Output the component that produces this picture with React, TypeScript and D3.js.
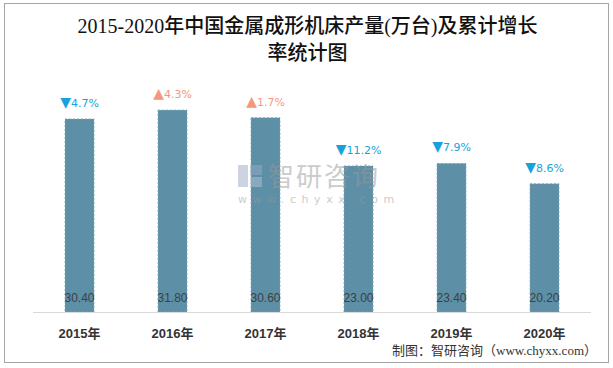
import React from 'react';
import { scaleBand, scaleLinear, select } from 'd3';

const years: string[] = ['2015年', '2016年', '2017年', '2018年', '2019年', '2020年'];
const output: number[] = [30.4, 31.8, 30.6, 23.0, 23.4, 20.2];
const growth: number[] = [-4.7, 4.3, 1.7, -11.2, -7.9, -8.6];

const titleLines = ['2015-2020年中国金属成形机床产量(万台)及累计增长', '率统计图'];
const source = '制图：智研咨询（www.chyxx.com）';

const dims = {
    width: 613,
    height: 368,
    left: 33,
    right: 591,
    baseline: 312,
    top: 89.75,
}

const colors = {
    bar: '#5d8fa6',
    barStroke: '#7ea6b8',
    down: '#17a2dc',
    up: '#f4987c',
    axis: '#d9d9d9',
    text: '#404040',
}

const App: React.FC = () => {
    const ref = React.useRef<SVGSVGElement>(null);

    const init = () => {
        const svg = select(ref.current);
        svg.selectAll('*').remove();

        const xScale = scaleBand()
            .domain(years)
            .range([dims.left, dims.right])
            .paddingInner(0.688)
            .paddingOuter(0.344);

        const yScale = scaleLinear()
            .domain([0, 35])
            .range([dims.baseline, dims.top]);

        // outer frame
        svg.append('rect')
            .attr('x', 4.5).attr('y', 3.5)
            .attr('width', 604).attr('height', 359)
            .attr('fill', '#fff')
            .attr('stroke', '#a6a6a6');

        // title
        svg.append('g')
            .selectAll('text')
            .data(titleLines)
            .join('text')
            .attr('x', 307.5)
            .attr('y', (d, i) => 33 + i * 27)
            .attr('text-anchor', 'middle')
            .attr('font-family', '"Liberation Serif", "Noto Sans CJK SC", serif')
            .attr('font-size', 20)
            .attr('font-weight', 500)
            .attr('fill', '#111')
            .text(d => d);

        // bars
        svg.append('g')
            .selectAll('rect')
            .data(output)
            .join('rect')
            .attr('x', (d, i) => xScale(years[i]))
            .attr('y', d => yScale(d))
            .attr('width', xScale.bandwidth())
            .attr('height', d => yScale(0) - yScale(d))
            .attr('fill', colors.bar)
            .attr('stroke', colors.barStroke)
            .attr('stroke-width', 0.8)
            .attr('stroke-dasharray', '2,2');

        // watermark
        const wm = svg.append('g').attr('opacity', 0.5);
        wm.append('rect').attr('x', 238).attr('y', 165).attr('width', 10).attr('height', 22).attr('fill', '#9aa9c4');
        wm.append('rect').attr('x', 250).attr('y', 165).attr('width', 12).attr('height', 10).attr('fill', '#9aa9c4');
        wm.append('rect').attr('x', 250).attr('y', 177).attr('width', 12).attr('height', 10).attr('fill', '#b8c4d8');
        wm.append('text')
            .attr('x', 268).attr('y', 186)
            .attr('font-family', '"Noto Sans CJK SC", sans-serif')
            .attr('font-size', 26)
            .attr('fill', '#999')
            .attr('letter-spacing', 2)
            .text('智研咨询');
        wm.append('text')
            .attr('x', 238).attr('y', 203)
            .attr('font-family', '"DejaVu Sans", sans-serif')
            .attr('font-size', 11)
            .attr('fill', '#999')
            .attr('letter-spacing', 5.6)
            .text('www.chyxx.com');

        // value labels inside bars
        svg.append('g')
            .selectAll('text')
            .data(output)
            .join('text')
            .attr('x', (d, i) => xScale(years[i]) + xScale.bandwidth() / 2)
            .attr('y', dims.baseline - 10)
            .attr('text-anchor', 'middle')
            .attr('font-family', '"Liberation Sans", Arial, sans-serif')
            .attr('font-size', 12)
            .attr('fill', colors.text)
            .text(d => d.toFixed(2));

        // growth labels
        const gl = svg.append('g')
            .selectAll('text')
            .data(growth)
            .join('text')
            .attr('x', (d, i) => xScale(years[i]) + xScale.bandwidth() / 2)
            .attr('y', (d, i) => yScale(output[i]) - 12)
            .attr('text-anchor', 'middle')
            .attr('font-family', '"DejaVu Sans", Verdana, sans-serif')
            .attr('font-size', 11)
            .attr('fill', d => d < 0 ? colors.down : colors.up);
        gl.append('tspan')
            .attr('font-size', 14)
            .text(d => d < 0 ? '▼' : '▲');
        gl.append('tspan')
            .text(d => `${Math.abs(d).toFixed(1)}%`);

        // x axis
        svg.append('line')
            .attr('x1', dims.left).attr('x2', dims.right)
            .attr('y1', dims.baseline + 0.5).attr('y2', dims.baseline + 0.5)
            .attr('stroke', colors.axis);

        svg.append('g')
            .selectAll('text')
            .data(years)
            .join('text')
            .attr('x', d => xScale(d) + xScale.bandwidth() / 2)
            .attr('y', 338)
            .attr('text-anchor', 'middle')
            .attr('font-family', '"Liberation Sans", "Noto Sans CJK SC", sans-serif')
            .attr('font-size', 13)
            .attr('font-weight', 'bold')
            .attr('fill', '#333')
            .text(d => d);

        // source
        svg.append('text')
            .attr('x', 597).attr('y', 355)
            .attr('text-anchor', 'end')
            .attr('font-family', '"Liberation Serif", "Noto Sans CJK SC", serif')
            .attr('font-size', 13)
            .attr('fill', '#333')
            .text(source);
    }

    React.useEffect(() => {
        init();
    }, [])

    return (
        <svg ref={ref} width={dims.width} height={dims.height}
            style={{ position: 'absolute', left: 0, top: 0 }} />
    );
}

export default App;
